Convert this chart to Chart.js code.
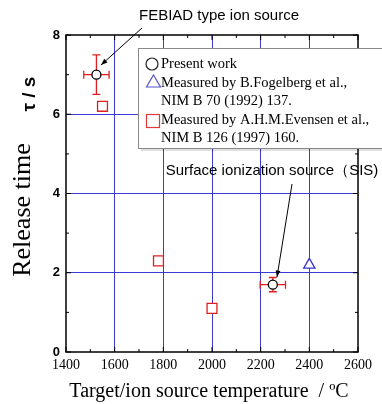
<!DOCTYPE html>
<html><head><meta charset="utf-8">
<script src="https://cdn.jsdelivr.net/npm/chart.js@4"></script>
<style>html,body{margin:0;padding:0;background:#fff}#wrap{width:382px;height:404px}</style>
</head><body><div id="wrap"><canvas id="c" width="382" height="404"></canvas></div>
<script>
// Data
const presentX = [1525, 2250];
const presentY = [7.0, 1.7];
const presentXErr = [52, 52];
const presentYErr = [0.5, 0.18];
const fogelbergX = [2400];
const fogelbergY = [2.2];
const evensenX = [1550, 1780, 2000];
const evensenY = [6.2, 2.3, 1.1];
const xTicks = [1400, 1600, 1800, 2000, 2200, 2400, 2600];
const yTicks = [0, 2, 4, 6, 8];
const legendLines = [
  ['Present work'],
  ['Measured by B.Fogelberg et al.,', 'NIM B 70 (1992) 137.'],
  ['Measured by A.H.M.Evensen et al.,', 'NIM B 126 (1997) 160.']
];

const toPts = (xs, ys) => xs.map((x, i) => ({x, y: ys[i]}));
const GRID = '#3a3ad8';

function arrow(ctx, x1, y1, x2, y2) {
  ctx.save();
  ctx.strokeStyle = '#000'; ctx.fillStyle = '#000'; ctx.lineWidth = 1;
  ctx.beginPath(); ctx.moveTo(x1, y1); ctx.lineTo(x2, y2); ctx.stroke();
  const a = Math.atan2(y2 - y1, x2 - x1), L = 7, w = 0.35;
  ctx.beginPath(); ctx.moveTo(x2, y2);
  ctx.lineTo(x2 - L * Math.cos(a - w), y2 - L * Math.sin(a - w));
  ctx.lineTo(x2 - L * Math.cos(a + w), y2 - L * Math.sin(a + w));
  ctx.closePath(); ctx.fill();
  ctx.restore();
}

const deco = {
  id: 'deco',
  beforeDatasetsDraw(chart) {
    const {ctx, scales: {x, y}} = chart;
    ctx.save();
    ctx.strokeStyle = '#e02020'; ctx.lineWidth = 1.3;
    presentX.forEach((vx, i) => {
      const px = x.getPixelForValue(vx), py = y.getPixelForValue(presentY[i]);
      const xl = x.getPixelForValue(vx - presentXErr[i]), xr = x.getPixelForValue(vx + presentXErr[i]);
      const yt = y.getPixelForValue(presentY[i] + presentYErr[i]), yb = y.getPixelForValue(presentY[i] - presentYErr[i]);
      const c = 4;
      ctx.beginPath();
      ctx.moveTo(xl, py); ctx.lineTo(xr, py);
      ctx.moveTo(xl, py - c); ctx.lineTo(xl, py + c);
      ctx.moveTo(xr, py - c); ctx.lineTo(xr, py + c);
      ctx.moveTo(px, yt); ctx.lineTo(px, yb);
      ctx.moveTo(px - c, yt); ctx.lineTo(px + c, yt);
      ctx.moveTo(px - c, yb); ctx.lineTo(px + c, yb);
      ctx.stroke();
    });
    ctx.restore();
  },
  afterDraw(chart) {
    const {ctx, chartArea: a, scales: {x, y}} = chart;
    ctx.save();
    // frame
    ctx.strokeStyle = '#000'; ctx.lineWidth = 1.5;
    ctx.strokeRect(a.left, a.top, a.right - a.left, a.bottom - a.top);
    // inward ticks
    ctx.lineWidth = 1;
    for (let v = 1400; v <= 2600; v += 100) {
      const px = x.getPixelForValue(v), L = v % 200 === 0 ? 5 : 3;
      ctx.beginPath();
      ctx.moveTo(px, a.bottom); ctx.lineTo(px, a.bottom - L);
      ctx.moveTo(px, a.top); ctx.lineTo(px, a.top + L);
      ctx.stroke();
    }
    for (let v = 0; v <= 8; v += 1) {
      const py = y.getPixelForValue(v), L = v % 2 === 0 ? 5 : 3;
      ctx.beginPath();
      ctx.moveTo(a.left, py); ctx.lineTo(a.left + L, py);
      ctx.moveTo(a.right, py); ctx.lineTo(a.right - L, py);
      ctx.stroke();
    }
    // axis titles
    ctx.fillStyle = '#000';
    ctx.font = '20px "Liberation Serif", serif';
    ctx.textAlign = 'center'; ctx.textBaseline = 'middle';
    ctx.fillText('Target/ion source temperature  / ºC', 209, 392);
    ctx.save();
    ctx.translate(23, 210); ctx.rotate(-Math.PI / 2);
    ctx.font = '26px "Liberation Serif", serif';
    ctx.fillText('Release time', 0, 0);
    ctx.restore();
    ctx.save();
    ctx.translate(30, 94); ctx.rotate(-Math.PI / 2);
    ctx.font = 'bold 19px "Liberation Sans", sans-serif';
    ctx.fillText('τ / s', 0, 0);
    ctx.restore();
    // legend
    ctx.fillStyle = 'rgba(0,0,0,0.12)';
    ctx.fillRect(141, 51, 250, 100);
    ctx.fillStyle = '#fff';
    ctx.fillRect(138, 48, 250, 100);
    ctx.strokeStyle = '#888'; ctx.lineWidth = 1;
    ctx.strokeRect(138.5, 48.5, 250, 100);
    ctx.font = '14.5px "Liberation Serif", serif';
    ctx.textAlign = 'left'; ctx.fillStyle = '#000';
    // symbols
    ctx.lineWidth = 1.2;
    ctx.strokeStyle = '#222';
    ctx.beginPath(); ctx.arc(152, 64, 6, 0, Math.PI * 2); ctx.stroke();
    ctx.strokeStyle = '#5555cc';
    ctx.beginPath(); ctx.moveTo(153.5, 75); ctx.lineTo(160.5, 87); ctx.lineTo(146.5, 87); ctx.closePath(); ctx.stroke();
    ctx.strokeStyle = '#e03a3a';
    ctx.strokeRect(146.5, 114.5, 13, 13);
    ctx.fillText(legendLines[0][0], 161, 64);
    ctx.fillText(legendLines[1][0], 161, 83);
    ctx.fillText(legendLines[1][1], 161, 101);
    ctx.fillText(legendLines[2][0], 161, 120);
    ctx.fillText(legendLines[2][1], 161, 138);
    // annotations
    ctx.font = '15px "Liberation Sans", sans-serif';
    ctx.textAlign = 'center';
    ctx.fillText('FEBIAD type ion source', 219, 16);
    ctx.fillText('Surface ionization source\uFF08SIS)', 272, 171);
    arrow(ctx, 142, 28, 101, 65);
    arrow(ctx, 292, 184, 277, 277);
    ctx.restore();
  }
};

new Chart(document.getElementById('c'), {
  type: 'scatter',
  data: {
    datasets: [
      {label: 'Present work', data: toPts(presentX, presentY), pointStyle: 'circle', pointRadius: 4.5,
        borderColor: '#000', backgroundColor: '#fff', borderWidth: 1.3},
      {label: 'Fogelberg', data: toPts(fogelbergX, fogelbergY), pointStyle: 'triangle', pointRadius: 6.5,
        borderColor: '#3333cc', backgroundColor: '#fff', borderWidth: 1.3},
      {label: 'Evensen', data: toPts(evensenX, evensenY), pointStyle: 'rect', pointRadius: 7,
        borderColor: '#e02020', backgroundColor: '#fff', borderWidth: 1.3}
    ]
  },
  options: {
    responsive: false, animation: false, events: [],
    layout: {padding: {top: 35, right: 24, left: 0, bottom: 0}},
    plugins: {legend: {display: false}, tooltip: {enabled: false}},
    scales: {
      x: {
        type: 'linear', min: 1400, max: 2600,
        afterFit: s => { s.height = 52; },
        afterBuildTicks: s => { s.ticks = xTicks.map(v => ({value: v})); },
        ticks: {padding: 5, color: '#000', font: {family: '"Liberation Serif", serif', size: 14}, maxRotation: 0, autoSkip: false,
          callback: v => String(v)},
        grid: {drawTicks: false, color: c => (c.tick && (c.tick.value === 1400 || c.tick.value === 2600)) ? 'rgba(0,0,0,0)' : GRID, lineWidth: 1},
        border: {display: false}
      },
      y: {
        type: 'linear', min: 0, max: 8,
        afterFit: s => { s.width = 66; },
        afterBuildTicks: s => { s.ticks = yTicks.map(v => ({value: v})); },
        ticks: {padding: 6, color: '#000', font: {family: '"Liberation Sans", sans-serif', size: 13, weight: 'bold'},
          callback: v => String(v)},
        grid: {drawTicks: false, color: c => (c.tick && (c.tick.value === 0 || c.tick.value === 8)) ? 'rgba(0,0,0,0)' : GRID, lineWidth: 1},
        border: {display: false}
      }
    }
  },
  plugins: [deco]
});
</script>
</body></html>
